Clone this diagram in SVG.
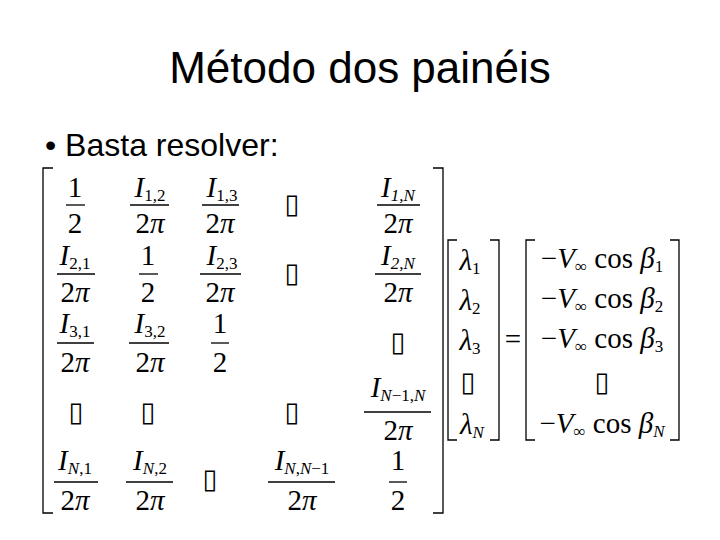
<svg xmlns="http://www.w3.org/2000/svg" width="720" height="540" viewBox="0 0 720 540">
<style>
.t{font-family:"Liberation Serif",serif;font-size:29px;fill:#000;text-anchor:middle}
.i{font-style:italic}
.s{font-size:17px}
.b{font-family:"DejaVu Sans",sans-serif;font-size:27px;text-anchor:middle}
.br{fill:none;stroke:#000;stroke-width:1.3}
.fl{stroke:#000;stroke-width:1.3}
</style>
<rect width="720" height="540" fill="#fff"/>
<text x="360" y="83" font-family="Liberation Sans,sans-serif" font-size="44" text-anchor="middle">Método dos painéis</text>
<text x="45" y="156" font-family="Liberation Sans,sans-serif" font-size="32">• Basta resolver:</text>
<g id="brackets">
<path class="br" d="M53,168 H43 V513 H53"/>
<path class="br" d="M433,168 H443 V513 H433"/>
<path class="br" d="M457,240 H448 V440 H457"/>
<path class="br" d="M490,240 H499 V440 H490"/>
<path class="br" d="M535,240 H526 V440 H535"/>
<path class="br" d="M670,240 H679 V440 H670"/>
</g>
<g id="matrix" class="t">
<text x="75" y="197">1</text><line class="fl" x1="66" y1="205" x2="85" y2="205"/><text x="75" y="233">2</text>
<text x="150" y="197"><tspan class="i">I</tspan><tspan class="s" dy="4">1,2</tspan></text><line class="fl" x1="130" y1="205" x2="169" y2="205"/><text x="150" y="233">2<tspan class="i">π</tspan></text>
<text x="222" y="197"><tspan class="i">I</tspan><tspan class="s" dy="4">1,3</tspan></text><line class="fl" x1="202" y1="205" x2="239" y2="205"/><text x="220" y="233">2<tspan class="i">π</tspan></text>
<text class="b" x="292" y="213">▯</text>
<text x="398" y="197"><tspan class="i">I</tspan><tspan class="s i" dy="4">1,N</tspan></text><line class="fl" x1="377" y1="205" x2="420" y2="205"/><text x="398" y="233">2<tspan class="i">π</tspan></text>
<text x="75" y="265"><tspan class="i">I</tspan><tspan class="s" dy="4">2,1</tspan></text><line class="fl" x1="57" y1="274" x2="95" y2="274"/><text x="75" y="302">2<tspan class="i">π</tspan></text>
<text x="148" y="265">1</text><line class="fl" x1="139" y1="274" x2="158" y2="274"/><text x="148" y="302">2</text>
<text x="222" y="265"><tspan class="i">I</tspan><tspan class="s" dy="4">2,3</tspan></text><line class="fl" x1="200" y1="274" x2="241" y2="274"/><text x="220" y="302">2<tspan class="i">π</tspan></text>
<text class="b" x="292" y="282">▯</text>
<text x="398" y="265"><tspan class="i">I</tspan><tspan class="s i" dy="4">2,N</tspan></text><line class="fl" x1="375" y1="274" x2="421" y2="274"/><text x="398" y="302">2<tspan class="i">π</tspan></text>
<text x="75" y="333"><tspan class="i">I</tspan><tspan class="s" dy="4">3,1</tspan></text><line class="fl" x1="57" y1="343" x2="94" y2="343"/><text x="75" y="372">2<tspan class="i">π</tspan></text>
<text x="150" y="333"><tspan class="i">I</tspan><tspan class="s" dy="4">3,2</tspan></text><line class="fl" x1="129" y1="343" x2="169" y2="343"/><text x="150" y="372">2<tspan class="i">π</tspan></text>
<text x="220" y="333">1</text><line class="fl" x1="211" y1="343" x2="229" y2="343"/><text x="220" y="372">2</text>
<text class="b" x="398" y="351">▯</text>
<text class="b" x="76" y="421">▯</text>
<text class="b" x="148" y="421">▯</text>
<text class="b" x="292" y="421">▯</text>
<text x="398" y="397"><tspan class="i">I</tspan><tspan class="s i" dy="4">N</tspan><tspan class="s" dy="0">−1,</tspan><tspan class="s i">N</tspan></text><line class="fl" x1="364" y1="412" x2="431" y2="412"/><text x="398" y="440">2<tspan class="i">π</tspan></text>
<text x="75" y="470"><tspan class="i">I</tspan><tspan class="s i" dy="4">N</tspan><tspan class="s">,1</tspan></text><line class="fl" x1="54" y1="482" x2="98" y2="482"/><text x="75" y="510">2<tspan class="i">π</tspan></text>
<text x="150" y="470"><tspan class="i">I</tspan><tspan class="s i" dy="4">N</tspan><tspan class="s">,2</tspan></text><line class="fl" x1="126" y1="482" x2="173" y2="482"/><text x="150" y="510">2<tspan class="i">π</tspan></text>
<text class="b" x="210" y="488">▯</text>
<text x="302" y="470"><tspan class="i">I</tspan><tspan class="s i" dy="4">N</tspan><tspan class="s">,</tspan><tspan class="s i">N</tspan><tspan class="s">−1</tspan></text><line class="fl" x1="268" y1="482" x2="335" y2="482"/><text x="302" y="510">2<tspan class="i">π</tspan></text>
<text x="398" y="470">1</text><line class="fl" x1="389" y1="482" x2="407" y2="482"/><text x="398" y="510">2</text>
</g>
<g id="lambda" class="t">
<text x="470" y="270"><tspan class="i">λ</tspan><tspan class="s" dy="4">1</tspan></text>
<text x="470" y="310"><tspan class="i">λ</tspan><tspan class="s" dy="4">2</tspan></text>
<text x="470" y="350"><tspan class="i">λ</tspan><tspan class="s" dy="4">3</tspan></text>
<text class="b" x="468" y="391">▯</text>
<text x="472" y="434"><tspan class="i">λ</tspan><tspan class="s i" dy="4">N</tspan></text>
</g>
<text class="t" x="513" y="349">=</text>
<g id="rhs" class="t">
<text x="602" y="268">−<tspan class="i">V</tspan><tspan class="s" dy="4">∞</tspan><tspan dy="-4"> cos </tspan><tspan class="i">β</tspan><tspan class="s" dy="4">1</tspan></text>
<text x="602" y="308">−<tspan class="i">V</tspan><tspan class="s" dy="4">∞</tspan><tspan dy="-4"> cos </tspan><tspan class="i">β</tspan><tspan class="s" dy="4">2</tspan></text>
<text x="602" y="348">−<tspan class="i">V</tspan><tspan class="s" dy="4">∞</tspan><tspan dy="-4"> cos </tspan><tspan class="i">β</tspan><tspan class="s" dy="4">3</tspan></text>
<text class="b" x="602" y="391">▯</text>
<text x="602" y="433">−<tspan class="i">V</tspan><tspan class="s" dy="4">∞</tspan><tspan dy="-4"> cos </tspan><tspan class="i">β</tspan><tspan class="s i" dy="4">N</tspan></text>
</g>
</svg>
